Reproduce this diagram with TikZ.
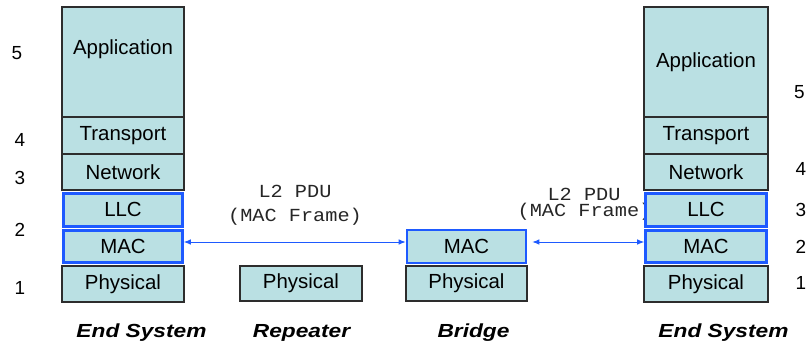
\documentclass[tikz,border=0pt]{standalone}
\usepackage{fontspec}
\setmainfont{Liberation Sans}
\newfontfamily\monofnt{Liberation Mono}
\usetikzlibrary{arrows.meta}
\definecolor{layerfill}{RGB}{186,224,227}
\definecolor{layerline}{RGB}{45,45,45}
\definecolor{llblue}{RGB}{30,90,255}
\tikzset{
  layer/.style={draw=layerline, line width=1.3bp, fill=layerfill, inner sep=0pt,
    font=\fontsize{20.5}{23}\selectfont, text=black},
  bluelayer/.style={layer, draw=llblue, line width=2.6bp},
  num/.style={font=\fontsize{19}{21}\selectfont, inner sep=0pt},
  pdu/.style={font=\monofnt\fontsize{18.5}{20}\selectfont, text=black!85, inner sep=0pt, xscale=1.1, transform shape},
  syslabel/.style={font=\fontsize{19}{21}\selectfont\bfseries\itshape, inner sep=0pt, xscale=1.2, transform shape},
  link/.style={draw=llblue, line width=0.9bp, {Latex[length=7bp,width=5.5bp]}-{Latex[length=7bp,width=5.5bp]}}
}
\begin{document}
\begin{tikzpicture}[x=1bp,y=-1bp]
\useasboundingbox (0,0) rectangle (807,347);
% PDU labels (drawn first so that boxes cover them)
\node[pdu] (pduA) at (295,191.5) {L2 PDU};
\node[pdu] (pduB) at (295,217) {(MAC Frame)};
\node[pdu] (pduC) at (584,194) {L2 PDU};
\node[pdu] (pduD) at (584.5,212) {(MAC Frame)};
% left end system
\node[layer, minimum width=122bp, minimum height=110bp,
  label={[anchor=center, yshift=-43bp, font=\fontsize{20.5}{23}\selectfont]north:Application}] (lapp) at (123,62) {};
\node[layer, minimum width=122bp, minimum height=37bp] (ltra) at (123,135.5) {Transport};
\node[layer, minimum width=122bp, minimum height=36bp] (lnet) at (123,172) {Network};
\node[layer, minimum width=122bp, minimum height=36bp] (lphy) at (123,284) {Physical};
\node[bluelayer, minimum width=119bp, minimum height=33bp] (lllc) at (123,209.7) {LLC};
\node[bluelayer, minimum width=119bp, minimum height=32bp] (lmac) at (123,246.5) {MAC};
% repeater
\node[layer, minimum width=122bp, minimum height=35bp] (rphy) at (301,283.5) {Physical};
% bridge
\node[layer, minimum width=121bp, minimum height=35bp] (bphy) at (466.5,283.5) {Physical};
\node[bluelayer, minimum width=119bp, minimum height=33bp] (bmac) at (466.5,246.5) {MAC};
% right end system
\node[layer, minimum width=124bp, minimum height=110bp] (rapp) at (706,62) {Application};
\node[layer, minimum width=124bp, minimum height=37bp] (rtra) at (706,135.5) {Transport};
\node[layer, minimum width=124bp, minimum height=36bp] (rnet) at (706,172) {Network};
\node[layer, minimum width=124bp, minimum height=36bp] (rphys) at (706,284) {Physical};
\node[bluelayer, minimum width=121bp, minimum height=33bp] (rllc) at (706,209.7) {LLC};
\node[bluelayer, minimum width=121bp, minimum height=32bp] (rmac) at (706,246.5) {MAC};
% links
\draw[link] ([yshift=4.5bp]lmac.east) -- ([yshift=4.5bp]bmac.west);
\draw[link, shorten <=5bp] ([yshift=4.5bp]bmac.east) -- ([yshift=4.5bp]rmac.west);
% layer numbers left
\node[num] (nl5) at (17,53.5) {5};
\node[num] (nl4) at (20,140) {4};
\node[num] (nl3) at (20,178) {3};
\node[num] (nl2) at (20,230) {2};
\node[num] (nl1) at (20,288) {1};
% layer numbers right
\node[num] (nr5) at (799.5,92) {5};
\node[num] (nr4) at (801,169) {4};
\node[num] (nr3) at (801,210) {3};
\node[num] (nr2) at (801,247) {2};
\node[num] (nr1) at (801,283) {1};
% system labels
\node[syslabel] (s1) at (141.5,332.5) {End System};
\node[syslabel] (s2) at (301.5,332.5) {Repeater};
\node[syslabel] (s3) at (473.5,332.5) {Bridge};
\node[syslabel] (s4) at (723.5,332.5) {End System};
\end{tikzpicture}
\end{document}
